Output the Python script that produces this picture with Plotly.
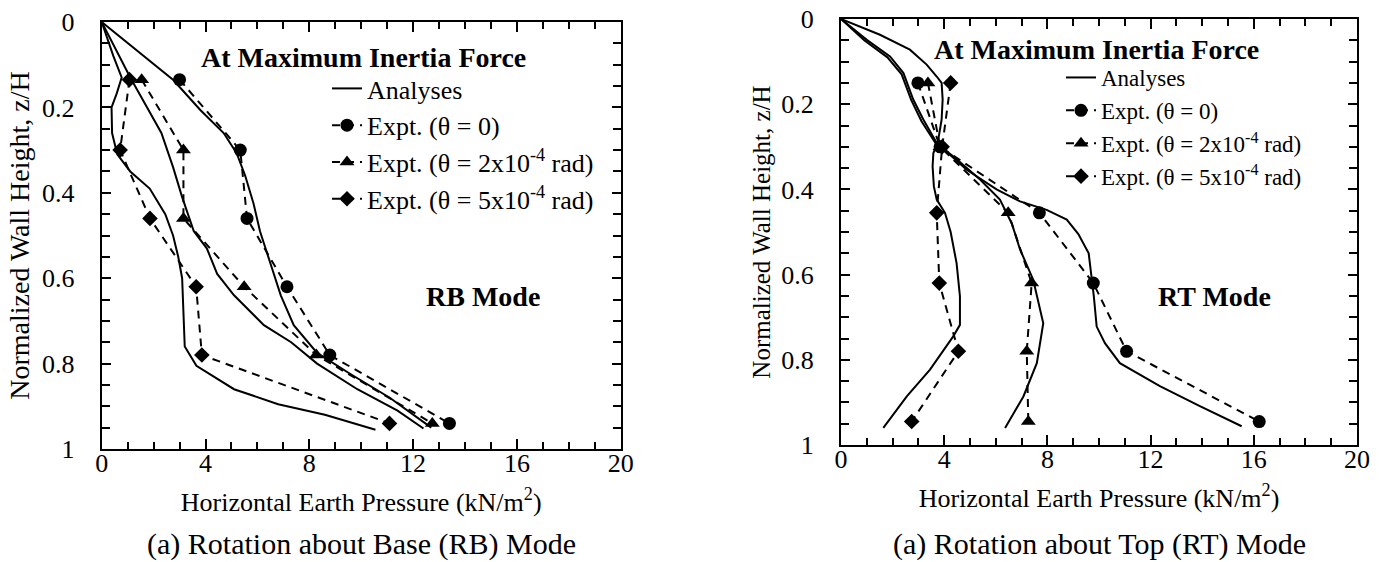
import plotly.graph_objects as go

# ---------------- data: RB mode (left) ----------------
z_rb = [0.135, 0.30, 0.46, 0.62, 0.78, 0.94]
rb_expt_th0 = [3.0, 5.34, 5.6, 7.14, 8.79, 13.4]
rb_expt_th2 = [1.54, 3.15, 3.15, 5.49, 8.27, 12.74]
rb_expt_th5 = [1.07, 0.71, 1.86, 3.64, 3.86, 11.09]

rb_an0_x = [0, 1.5, 2.76, 3.8, 4.7, 5.2, 5.53, 5.85, 6.1, 6.5, 6.9, 7.4, 8.3, 9.6, 11.1, 12.7]
rb_an0_z = [0, 0.073, 0.136, 0.206, 0.26, 0.307, 0.36, 0.425, 0.49, 0.565, 0.64, 0.71, 0.775, 0.825, 0.88, 0.95]
rb_an2_x = [0, 1.1, 1.75, 2.3, 2.75, 3.1, 3.55, 4.05, 4.45, 5.1, 6.25, 7.3, 8.3, 9.85, 11.4, 12.4]
rb_an2_z = [0, 0.13, 0.2, 0.26, 0.34, 0.41, 0.49, 0.53, 0.59, 0.64, 0.71, 0.75, 0.8, 0.86, 0.91, 0.952]
rb_an5_x = [0, 0.45, 0.77, 0.58, 0.38, 0.4, 0.6, 1.1, 1.85, 2.45, 2.75, 2.95, 3.1, 3.2, 3.65, 5.1, 6.8, 8.6, 10.55]
rb_an5_z = [0, 0.08, 0.13, 0.167, 0.2, 0.26, 0.31, 0.35, 0.39, 0.45, 0.5, 0.55, 0.6, 0.76, 0.805, 0.86, 0.895, 0.92, 0.955]

# ---------------- data: RT mode (right) ----------------
z_rt = [0.15, 0.30, 0.455, 0.62, 0.78, 0.945]
rt_expt_th0 = [2.98, 3.84, 7.69, 9.78, 11.07, 16.21]
rt_expt_th2 = [3.37, 3.84, 6.48, 7.39, 7.2, 7.26]
rt_expt_th5 = [4.25, 3.92, 3.71, 3.81, 4.55, 2.74]

rt_an0_x = [0, 1.0, 1.9, 2.42, 2.8, 3.19, 3.71, 4.87, 6.03, 6.94, 7.97, 8.75, 9.2, 9.6, 9.8, 9.91, 10.23, 10.81, 12.36, 13.91, 15.53]
rt_an0_z = [0, 0.049, 0.088, 0.127, 0.189, 0.236, 0.291, 0.354, 0.4, 0.428, 0.448, 0.471, 0.505, 0.55, 0.651, 0.722, 0.761, 0.808, 0.862, 0.909, 0.956]
rt_an2_x = [0, 0.9, 1.8, 2.35, 2.72, 3.12, 3.65, 4.36, 5.39, 6.16, 6.62, 6.94, 7.45, 7.84, 7.59, 7.07, 6.36]
rt_an2_z = [0, 0.05, 0.09, 0.13, 0.19, 0.24, 0.29, 0.323, 0.377, 0.424, 0.48, 0.541, 0.612, 0.714, 0.808, 0.886, 0.96]
rt_an5_x = [0, 1.51, 2.67, 3.32, 3.71, 3.9, 3.94, 3.9, 3.77, 3.58, 3.55, 3.6, 3.71, 4.03, 4.25, 4.48, 4.61, 4.61, 4.35, 3.45, 2.55, 1.64]
rt_an5_z = [0, 0.037, 0.072, 0.107, 0.135, 0.15, 0.189, 0.236, 0.283, 0.315, 0.346, 0.393, 0.424, 0.455, 0.5, 0.573, 0.651, 0.718, 0.745, 0.823, 0.886, 0.96]

x_ticks = [0, 4, 8, 12, 16, 20]
y_ticks = [0, 0.2, 0.4, 0.6, 0.8, 1]

FONT = "Liberation Serif"
BLACK = "black"
DASH = "8px,6px"

lbl_an = "Analyses"
lbl_0 = "Expt. (θ = 0)"
lbl_2 = "Expt. (θ = 2x10<sup>-4</sup> rad)"
lbl_5 = "Expt. (θ = 5x10<sup>-4</sup> rad)"

fig = go.Figure()


def add_panel(xa, ya, legend_name, an_list, expt_list, z_expt):
    for i, (ax_, az_) in enumerate(an_list):
        fig.add_trace(go.Scatter(
            x=ax_, y=az_, mode="lines", xaxis=xa, yaxis=ya,
            line=dict(color=BLACK, width=2),
            name=lbl_an, showlegend=(i == 0), legend=legend_name,
            legendrank=1,
        ))
    symbols = ["circle", "triangle-up", "diamond"]
    sizes = [13, 13, 12]
    labels = [lbl_0, lbl_2, lbl_5]
    for k, vals in enumerate(expt_list):
        fig.add_trace(go.Scatter(
            x=vals, y=z_expt, mode="lines+markers", xaxis=xa, yaxis=ya,
            line=dict(color=BLACK, width=2, dash=DASH),
            marker=dict(symbol=symbols[k], size=sizes[k], color=BLACK),
            name=labels[k], legend=legend_name, legendrank=2 + k,
        ))


add_panel("x", "y", "legend",
          [(rb_an0_x, rb_an0_z), (rb_an2_x, rb_an2_z), (rb_an5_x, rb_an5_z)],
          [rb_expt_th0, rb_expt_th2, rb_expt_th5], z_rb)
add_panel("x2", "y2", "legend2",
          [(rt_an0_x, rt_an0_z), (rt_an2_x, rt_an2_z), (rt_an5_x, rt_an5_z)],
          [rt_expt_th0, rt_expt_th2, rt_expt_th5], z_rt)

W, H = 1379, 562


def xaxis_def(domain, anchor):
    return dict(
        domain=domain, anchor=anchor, range=[0, 20], automargin=False,
        tickvals=x_ticks, ticks="inside", ticklen=10, tickwidth=1.5, tickcolor=BLACK,
        minor=dict(dtick=1, ticks="inside", ticklen=7, tickwidth=1.5, tickcolor=BLACK),
        showline=True, linewidth=2, linecolor=BLACK, mirror="ticks",
        showgrid=False, zeroline=False, ticklabelstandoff=-10,
        tickfont=dict(family=FONT, size=26, color=BLACK),
        title=dict(text="Horizontal Earth Pressure (kN/m<sup>2</sup>)",
                   font=dict(family=FONT, size=26, color=BLACK), standoff=16),
    )


def yaxis_def(domain, anchor, tsize):
    return dict(
        domain=domain, anchor=anchor, range=[1, 0], automargin=False,
        tickvals=y_ticks, ticks="inside", ticklen=9, tickwidth=1.5, tickcolor=BLACK,
        minor=dict(dtick=0.05, ticks="inside", ticklen=8, tickwidth=1.5, tickcolor=BLACK),
        showline=True, linewidth=2, linecolor=BLACK, mirror="ticks",
        showgrid=False, zeroline=False, ticklabelstandoff=20,
        tickfont=dict(family=FONT, size=26, color=BLACK),
        title=dict(text="Normalized Wall Height, z/H",
                   font=dict(family=FONT, size=tsize, color=BLACK), standoff=4),
    )


fig.update_layout(
    width=W, height=H,
    margin=dict(l=0, r=0, t=0, b=0, autoexpand=False),
    paper_bgcolor="white", plot_bgcolor="white",
    font=dict(family=FONT, color=BLACK),
    xaxis=xaxis_def([101.7 / W, 620.7 / W], "y"),
    yaxis=yaxis_def([1 - 449 / H, 1 - 22 / H], "x", 28),
    xaxis2=xaxis_def([841 / W, 1357 / W], "y2"),
    yaxis2=yaxis_def([1 - 445 / H, 1 - 19 / H], "x2", 25),
    legend=dict(x=327 / W, y=1 - 65 / H, xanchor="left", yanchor="top",
                bgcolor="rgba(0,0,0,0)", font=dict(family=FONT, size=26, color=BLACK),
                traceorder="normal"),
    legend2=dict(x=1061 / W, y=1 - 56 / H, xanchor="left", yanchor="top",
                 bgcolor="rgba(0,0,0,0)", font=dict(family=FONT, size=23, color=BLACK),
                 traceorder="normal"),
)

ann = []
ann.append(dict(text="<b>At Maximum Inertia Force</b>", x=10.09, y=0.082, xref="x", yref="y",
                showarrow=False, font=dict(family=FONT, size=28, color=BLACK)))
ann.append(dict(text="<b>At Maximum Inertia Force</b>", x=9.92, y=0.072, xref="x2", yref="y2",
                showarrow=False, font=dict(family=FONT, size=28, color=BLACK)))
ann.append(dict(text="<b>RB Mode</b>", x=14.7, y=0.644, xref="x", yref="y",
                showarrow=False, font=dict(family=FONT, size=28, color=BLACK)))
ann.append(dict(text="<b>RT Mode</b>", x=14.46, y=0.651, xref="x2", yref="y2",
                showarrow=False, font=dict(family=FONT, size=28, color=BLACK)))
ann.append(dict(text="(a) Rotation about Base (RB) Mode", x=0.5, y=1 - 544 / H,
                xref="x domain", yref="paper", yanchor="middle", showarrow=False,
                font=dict(family=FONT, size=30, color=BLACK)))
ann.append(dict(text="(a) Rotation about Top (RT) Mode", x=0.5, y=1 - 544 / H,
                xref="x2 domain", yref="paper", yanchor="middle", showarrow=False,
                font=dict(family=FONT, size=30, color=BLACK)))
fig.update_layout(annotations=ann)

fig.write_html("out.html")
